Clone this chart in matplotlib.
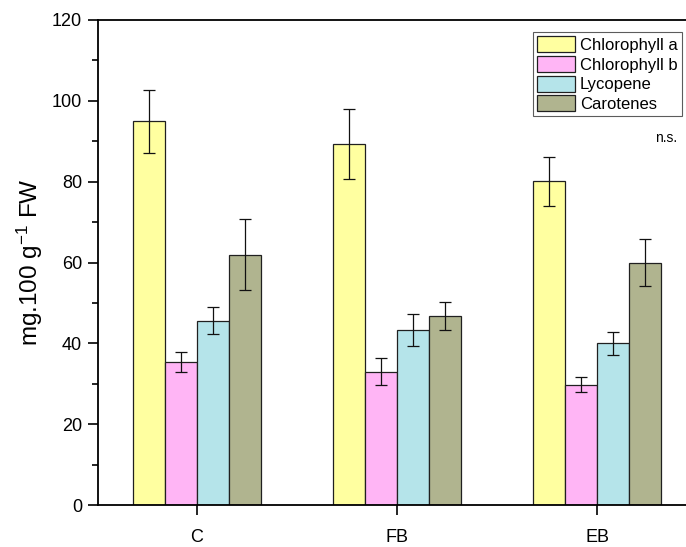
import matplotlib
matplotlib.use("Agg")
import matplotlib.pyplot as plt
import numpy as np

plt.rcParams['font.family'] = ['Liberation Sans', 'DejaVu Sans']
plt.rcParams['mathtext.default'] = 'regular'

groups = ['C', 'FB', 'EB']
series = ['Chlorophyll a', 'Chlorophyll b', 'Lycopene', 'Carotenes']
chl_a = [95.0, 89.4, 80.1]
chl_a_err = [7.8, 8.7, 6.1]
chl_b = [35.4, 33.0, 29.8]
chl_b_err = [2.5, 3.3, 1.9]
lyc = [45.6, 43.3, 40.0]
lyc_err = [3.4, 4.0, 2.9]
car = [61.9, 46.8, 60.0]
car_err = [8.8, 3.5, 5.8]
colors = ['#FFFFA0', '#FFB5F5', '#B5E4EA', '#B0B48F']

values = [chl_a, chl_b, lyc, car]
errors = [chl_a_err, chl_b_err, lyc_err, car_err]

fig = plt.figure(figsize=(6.86, 5.47), dpi=100)
ax = fig.add_axes([98/686, 1 - 505/547, 599/686, 485/547])

x = np.arange(len(groups))
w = 0.16
for i in range(4):
    pos = x + (i - 1.5) * w
    ax.bar(pos, values[i], w, color=colors[i], edgecolor='#202020',
           linewidth=0.9, label=series[i], zorder=2)
    ax.errorbar(pos, values[i], yerr=errors[i], fmt='none', ecolor='#111111',
                elinewidth=0.9, capsize=4.5, capthick=0.9, zorder=3)

ax.set_xlim(-0.495, 2.5)
ax.set_ylim(0, 120)
ax.set_yticks(np.arange(0, 121, 20))
ax.set_yticks(np.arange(10, 120, 20), minor=True)
ax.set_xticks(x)
ax.set_xticklabels(groups)
ax.tick_params(axis='both', which='major', direction='out', length=7,
               width=1.2, labelsize=13, pad=4.5)
ax.tick_params(axis='x', which='major', pad=10)
ax.tick_params(axis='y', which='minor', direction='out', length=4, width=1.2)
for s in ax.spines.values():
    s.set_linewidth(1.3)
ax.spines['right'].set_visible(False)

ax.set_ylabel('mg.100 g$^{-1}$ FW', fontsize=17.5, labelpad=5)

ax.text(2.345, 90.7, 'n.s.', fontsize=10, ha='center', va='center')

leg = ax.legend(loc='upper right', bbox_to_anchor=(682/686, 1 - 32/547),
                bbox_transform=fig.transFigure, borderaxespad=0,
                fontsize=12, frameon=True, fancybox=False,
                handlelength=2.3, handleheight=1.1, labelspacing=0.18,
                handletextpad=0.3, borderpad=0.25)
leg.get_frame().set_edgecolor('#333333')
leg.get_frame().set_linewidth(0.8)

fig.savefig('out.png', dpi=100)
